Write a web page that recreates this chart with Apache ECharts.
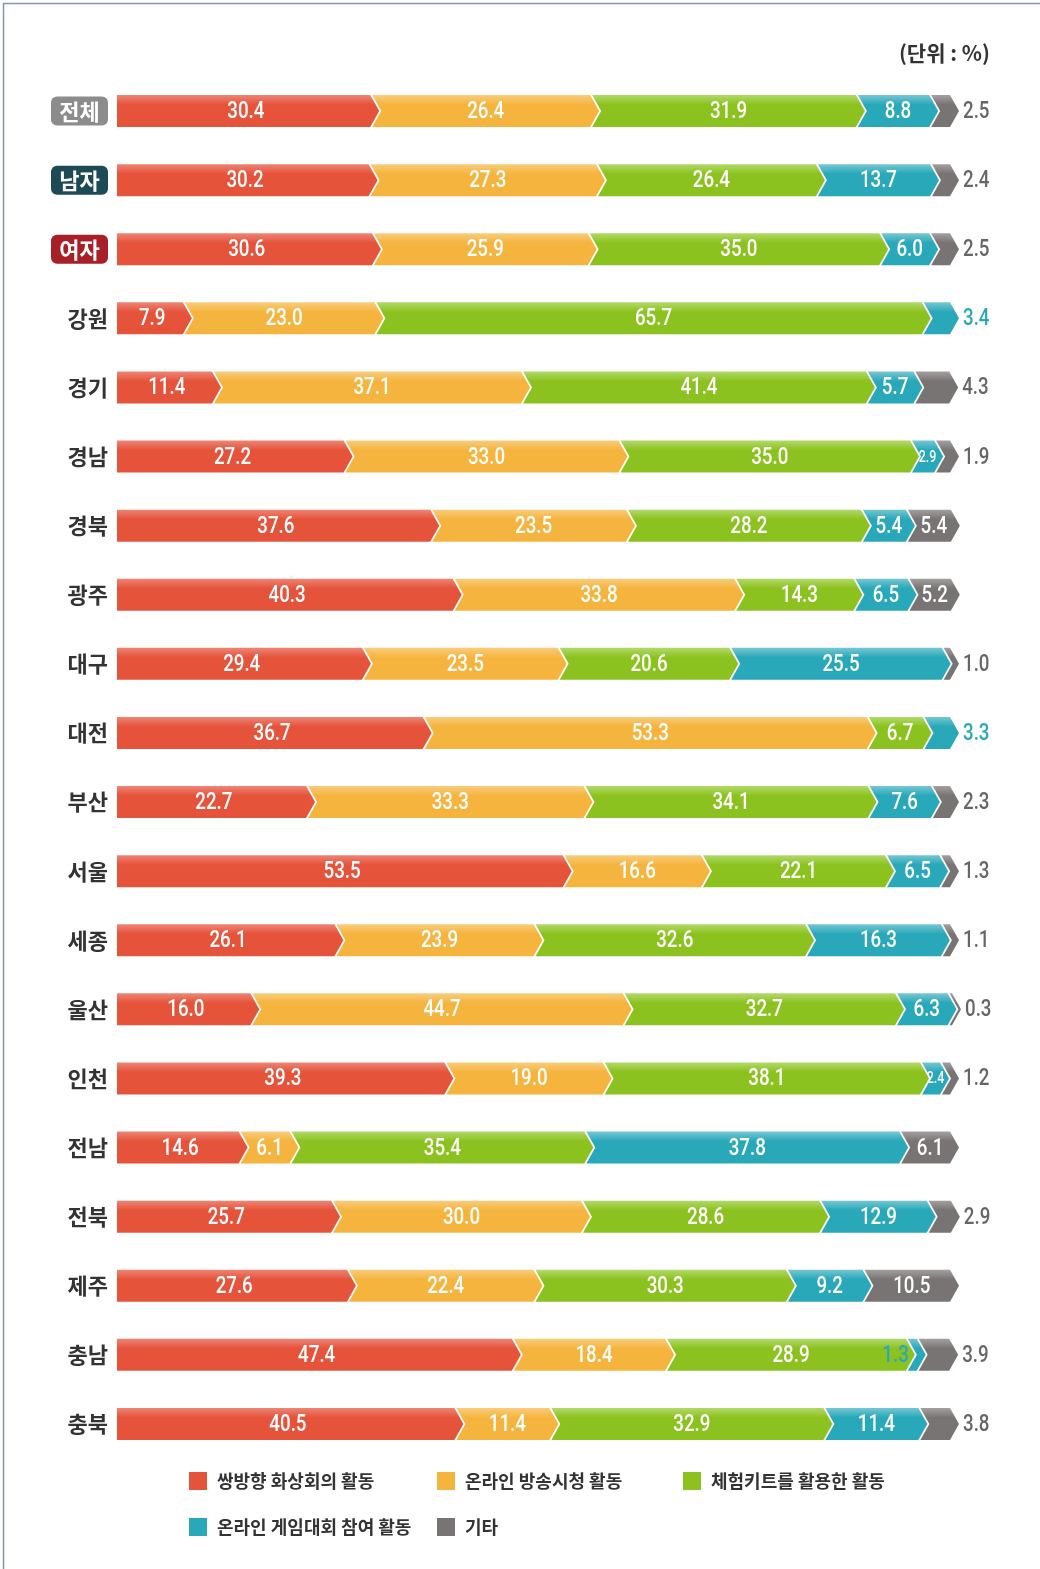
<!DOCTYPE html>
<html>
<head>
<meta charset="utf-8">
<script src="https://cdn.jsdelivr.net/npm/echarts@6/dist/echarts.min.js"></script>
<style>
  html, body { margin: 0; padding: 0; background: #fff; }
  #chart { width: 1040px; height: 1569px; }
</style>
</head>
<body>
<div id="chart"></div>
<script>
// rows, top to bottom
const categories = ['전체', '남자', '여자', '강원', '경기', '경남', '경북', '광주', '대구', '대전',
  '부산', '서울', '세종', '울산', '인천', '전남', '전북', '제주', '충남', '충북'];
const seriesNames = ['쌍방향 화상회의 활동', '온라인 방송시청 활동', '체험키트를 활용한 활동', '온라인 게임대회 참여 활동', '기타'];

const videoConf = [30.4, 30.2, 30.6, 7.9, 11.4, 27.2, 37.6, 40.3, 29.4, 36.7, 22.7, 53.5, 26.1, 16.0, 39.3, 14.6, 25.7, 27.6, 47.4, 40.5];
const broadcast = [26.4, 27.3, 25.9, 23.0, 37.1, 33.0, 23.5, 33.8, 23.5, 53.3, 33.3, 16.6, 23.9, 44.7, 19.0, 6.1, 30.0, 22.4, 18.4, 11.4];
const kitActivity = [31.9, 26.4, 35.0, 65.7, 41.4, 35.0, 28.2, 14.3, 20.6, 6.7, 34.1, 22.1, 32.6, 32.7, 38.1, 35.4, 28.6, 30.3, 28.9, 32.9];
const gameContest = [8.8, 13.7, 6.0, 3.4, 5.7, 2.9, 5.4, 6.5, 25.5, 3.3, 7.6, 6.5, 16.3, 6.3, 2.4, 37.8, 12.9, 9.2, 1.3, 11.4];
const others = [2.5, 2.4, 2.5, null, 4.3, 1.9, 5.4, 5.2, 1.0, null, 2.3, 1.3, 1.1, 0.3, 1.2, 6.1, 2.9, 10.5, 3.9, 3.8];

const allValues = [videoConf, broadcast, kitActivity, gameContest, others];
const colors = ['#e5533b', '#f5b43e', '#8cc21f', '#28a8b9', '#787473'];
const lightColors = ['#ee8575', '#f8cd7c', '#b2d96a', '#77c7d2', '#a4a09f'];

const ARROW = 9;
const NUM_FONT = '500 24px Roboto, "Liberation Sans", sans-serif';

// build [row, start, end, value] per series
const seriesData = allValues.map(() => []);
categories.forEach((c, r) => {
  let acc = 0;
  allValues.forEach((arr, s) => {
    const v = arr[r];
    if (v == null) { seriesData[s].push([r, null, null, null]); return; }
    seriesData[s].push([r, acc, acc + v, v]);
    acc += v;
  });
});

function makeRender(sIdx) {
  return function (params, api) {
    const start = api.value(1);
    if (start == null || isNaN(start)) return;
    const row = api.value(0);
    const end = api.value(2);
    const v = api.value(3);
    const p0 = api.coord([start, row]);
    const p1 = api.coord([end, row]);
    const h = 32;
    const top = p0[1] - h / 2, bot = p0[1] + h / 2, mid = p0[1];
    const x0 = sIdx === 0 ? p0[0] : p0[0] + 2;
    const x1 = Math.max(p1[0], x0 + 2.5);
    const pts = sIdx === 0
      ? [[x0, top], [x1, top], [x1 + ARROW, mid], [x1, bot], [x0, bot]]
      : [[x0, top], [x1, top], [x1 + ARROW, mid], [x1, bot], [x0, bot], [x0 + ARROW, mid]];

    const children = [{
      type: 'polygon',
      shape: { points: pts },
      style: {
        fill: new echarts.graphic.LinearGradient(0, 0, 0, 1, [
          { offset: 0, color: lightColors[sIdx] },
          { offset: 0.3, color: colors[sIdx] },
          { offset: 1, color: colors[sIdx] }
        ])
      }
    }];

    const isLast = sIdx === 4 || (sIdx === 3 && others[row] == null);
    const txt = v.toFixed(1);
    let lx, align = 'center', fill = '#fff', font = NUM_FONT;
    if (isLast && v < 5) {
      lx = x1 + ARROW + 4; align = 'left';
      fill = sIdx === 4 ? '#666' : colors[3];
    } else if (v < 2) {
      lx = x0 + 1; align = 'right'; fill = colors[3];
    } else {
      lx = sIdx === 0 ? (x0 + x1) / 2 + ARROW / 4 : (x0 + x1) / 2 + ARROW / 2;
      if (v < 3.5) font = '500 16px Roboto, sans-serif';
    }
    children.push({
      type: 'text',
      x: lx, y: mid + 1,
      scaleX: 0.78,
      style: { text: txt, fill: fill, font: font, align: align, verticalAlign: 'middle' }
    });
    return { type: 'group', children: children };
  };
}

const boxStyle = (bg) => ({
  backgroundColor: bg, color: '#fff', fontSize: 22, fontWeight: 'bold',
  borderRadius: 6, padding: [4, 5, 3, 5], width: 47, align: 'center',
  fontFamily: '"Noto Sans CJK KR", sans-serif', lineHeight: 25
});

const legendPos = [[184, 1467], [432, 1467], [678, 1467], [184, 1513], [432, 1513]];

const chart = echarts.init(document.getElementById('chart'));
chart.setOption({
  backgroundColor: '#fff',
  animation: false,
  textStyle: { fontFamily: '"Noto Sans CJK KR", sans-serif' },
  grid: { left: 117, right: 90, top: 76.5, bottom: 110.5, containLabel: false },
  xAxis: { type: 'value', min: 0, max: 100, show: false },
  yAxis: {
    type: 'category', data: categories, inverse: true,
    axisLine: { show: false }, axisTick: { show: false }, splitLine: { show: false },
    axisLabel: {
      margin: 9, fontSize: 22, fontWeight: 'bold', color: '#333',
      fontFamily: '"Noto Sans CJK KR", sans-serif',
      formatter: (val) => val === '전체' ? '{a|전체}' : val === '남자' ? '{b|남자}' : val === '여자' ? '{c|여자}' : val,
      rich: { a: boxStyle('#8c8c8c'), b: boxStyle('#1e4a55'), c: boxStyle('#a81f27') }
    }
  },
  legend: seriesNames.map((n, i) => ({
    data: [n], left: legendPos[i][0], top: legendPos[i][1],
    icon: 'rect', itemWidth: 18, itemHeight: 18, itemGap: 10,
    selectedMode: false,
    textStyle: { fontSize: 18, color: '#333', fontWeight: 'bold', padding: [0, 0, 0, 5], fontFamily: '"Noto Sans CJK KR", sans-serif' }
  })),
  graphic: [
    { type: 'text', right: 50, top: 43, style: { text: '(단위 : %)', font: 'bold 21px "Noto Sans CJK KR", sans-serif', fill: '#333' } },
    { type: 'line', shape: { x1: 3, y1: 3.5, x2: 1040, y2: 3.5 }, style: { stroke: '#7f95bb', lineWidth: 1.5 } },
    { type: 'line', shape: { x1: 3.5, y1: 3, x2: 3.5, y2: 1569 }, style: { stroke: '#7f95bb', lineWidth: 1.5 } }
  ],
  series: seriesNames.map((n, i) => ({
    name: n,
    type: 'custom',
    itemStyle: { color: colors[i] },
    renderItem: makeRender(i),
    encode: { x: [1, 2], y: 0 },
    data: seriesData[i]
  }))
});
</script>
</body>
</html>
